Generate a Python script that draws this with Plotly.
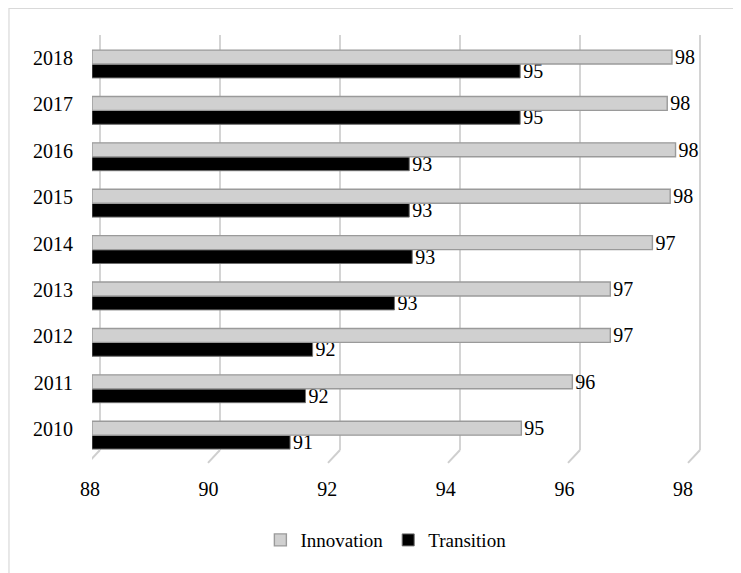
import plotly.graph_objects as go

years = ["2010", "2011", "2012", "2013", "2014", "2015", "2016", "2017", "2018"]
innovation = [95.24, 96.10, 96.74, 96.74, 97.45, 97.75, 97.84, 97.70, 97.78]
transition = [91.34, 91.60, 91.72, 93.10, 93.40, 93.35, 93.35, 95.22, 95.22]
x_ticks = [88, 90, 92, 94, 96, 98]

FONT = "Liberation Serif"
BASE = 88

fig = go.Figure()
fig.add_trace(go.Bar(
    name="Transition", y=years, x=[v - BASE for v in transition], base=BASE,
    orientation="h", marker=dict(color="#000000", line=dict(color="#6f6f6f", width=1)),
    text=[f"{v:.0f}" for v in transition], textposition="outside",
    textfont=dict(family=FONT, size=20, color="#000000"),
    constraintext="none", cliponaxis=False,
))
fig.add_trace(go.Bar(
    name="Innovation", y=years, x=[v - BASE for v in innovation], base=BASE,
    orientation="h", marker=dict(color="#d0d0d0", line=dict(color="#9a9a9a", width=1.4)),
    text=[f"{v:.0f}" for v in innovation], textposition="outside",
    textfont=dict(family=FONT, size=20, color="#000000"),
    constraintext="none", cliponaxis=False,
))
# invisible trace to carry the back-plane gridlines
fig.add_trace(go.Scatter(x=[x_ticks[0]], y=[years[0]], xaxis="x2", mode="markers",
                         marker=dict(opacity=0), showlegend=False, hoverinfo="skip"))

shapes = []
for v in x_ticks:
    shapes.append(dict(type="line", xref="x2", yref="paper", x0=v, x1=v - 0.2,
                       y0=0, y1=-0.031, line=dict(color="#cfcfcf", width=2)))
shapes.append(dict(type="rect", xref="paper", yref="paper", x0=-0.1339, x1=1.06,
                   y0=-0.31, y1=1.0639, line=dict(color="#d9d9d9", width=1.2),
                   fillcolor="rgba(0,0,0,0)", layer="below"))

fig.update_layout(
    width=733, height=565,
    margin=dict(l=84, r=29, t=27, b=123),
    paper_bgcolor="white", plot_bgcolor="rgba(0,0,0,0)",
    barmode="group", bargap=0.4, bargroupgap=0,
    font=dict(family=FONT, size=20, color="#000000"),
    xaxis=dict(range=[88, 98.455], tickvals=x_ticks, showgrid=False, zeroline=False,
               showline=False, ticks="", ticklabelstandoff=25, ticklabelshift=-2,
               tickfont=dict(family=FONT, size=20)),
    xaxis2=dict(range=[87.867, 98.2], overlaying="x", tickvals=x_ticks, showgrid=True,
                gridcolor="#d4d4d4", gridwidth=1.5, showticklabels=False,
                zeroline=False, showline=False, layer="below traces"),
    yaxis=dict(type="category", range=[-0.32, 8.625], showgrid=False, zeroline=False,
               showline=False, ticks="", ticklabelstandoff=18, ticklabelshift=-6,
               tickfont=dict(family=FONT, size=20)),
    legend=dict(orientation="h", x=0.474, xanchor="center", y=-0.217, yanchor="middle",
                traceorder="reversed", font=dict(family=FONT, size=19),
                itemwidth=30, bgcolor="rgba(0,0,0,0)"),
    shapes=shapes,
    showlegend=True,
)

fig.write_html("out.html")
